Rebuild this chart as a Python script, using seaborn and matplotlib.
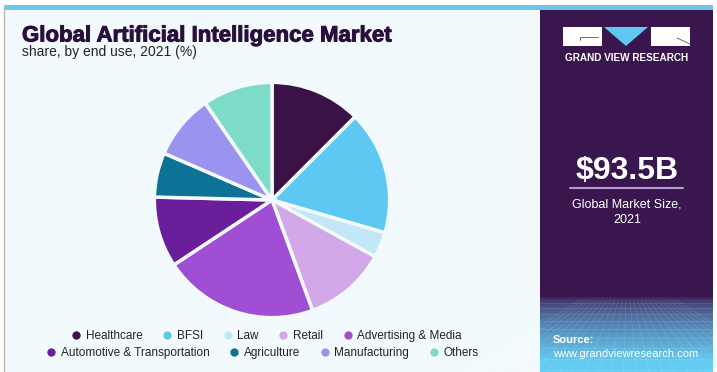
import numpy as np
import matplotlib
matplotlib.use("Agg")
import matplotlib.pyplot as plt
import matplotlib.patheffects as pe
import seaborn as sns
from matplotlib.lines import Line2D
from matplotlib.patches import Rectangle, Polygon

# Data (share by end use, 2021, %)
segments = ["Healthcare", "BFSI", "Law", "Retail", "Advertising & Media",
            "Automotive & Transportation", "Agriculture", "Manufacturing", "Others"]
shares = [12.5, 17.0, 3.5, 11.4, 21.3, 9.7, 6.1, 8.9, 9.6]
colors = ["#3b1248", "#5ec8f2", "#c2e7f6", "#d3a8e8", "#a04fd4",
          "#6a1e9c", "#0e7196", "#9a94f0", "#7ddcc7"]

title = "Global Artificial Intelligence Market"
subtitle = "share, by end use, 2021 (%)"
market_size = "$93.5B"
market_label = "Global Market Size,\n2021"

sns.set_theme(style="white")
plt.rcParams["font.family"] = ["Liberation Sans", "DejaVu Sans"]

W, H = 717, 372
fig = plt.figure(figsize=(W / 100, H / 100), dpi=100)
fig.patch.set_facecolor("white")

# background layer in pixel coords
bg = fig.add_axes([0, 0, 1, 1])
bg.set_xlim(0, W)
bg.set_ylim(H, 0)
bg.axis("off")
bg.add_patch(Rectangle((4, 10), 536, 362, facecolor="#f3fafd", edgecolor="none"))
bg.add_patch(Rectangle((4, 5), 709, 5, facecolor="#6cc6e8", edgecolor="none"))
bg.plot([4, 4], [5, 372], color="#b8b8b8", lw=1)

# right side panel: dark purple fading to light blue at the bottom
c0 = np.array([0x3a, 0x16, 0x4f]) / 255
c1 = np.array([0x64, 0xcc, 0xf2]) / 255
bg.add_patch(Rectangle((540, 10), 173, 290, facecolor=c0, edgecolor="none", zorder=1))
for y in range(294, 372):
    t = min(1.0, max(0.0, (y - 296) / 66)) ** 0.6
    bg.add_patch(Rectangle((540, y), 173, 1.3, facecolor=c0 * (1 - t) + c1 * t,
                           edgecolor="none", zorder=1))
# faint perspective grid
for x0 in np.linspace(470, 790, 26):
    bg.plot([627 + (x0 - 627) * 0.3, x0], [300, 372], color="white", lw=0.4, alpha=0.18,
            zorder=2, clip_on=True)
for yy in [303, 308, 314, 321, 329, 338, 348, 359, 370]:
    bg.plot([540, 713], [yy, yy], color="white", lw=0.4, alpha=0.18, zorder=2)
bg.set_xlim(0, W)
bg.set_ylim(H, 0)

# logo
bg.add_patch(Rectangle((563, 27), 39, 19, facecolor="white", edgecolor="none", zorder=3))
bg.plot([580, 580, 598], [40, 37, 37], color="#555555", lw=0.6, zorder=4)
bg.add_patch(Polygon([[604, 27], [648, 27], [626, 46]], facecolor="#5ec8f2", edgecolor="none", zorder=3))
bg.add_patch(Rectangle((651, 27), 39, 19, facecolor="white", edgecolor="none", zorder=3))
bg.plot([677, 690], [38, 44], color="#555555", lw=0.6, zorder=4)
bg.text(627, 58, "GRAND VIEW RESEARCH", color="white", fontsize=7.2, fontweight="bold",
        ha="center", va="center", zorder=4)

bg.text(627, 171, market_size, color="white", fontsize=23, fontweight="bold",
        ha="center", va="center", zorder=4)
bg.plot([570, 683], [188, 188], color="#b89ad0", lw=1.5, zorder=4)
bg.text(627, 212, market_label, color="white", fontsize=9, ha="center", va="center",
        linespacing=1.4, zorder=4)
bg.text(553, 340, "Source:", color="white", fontsize=8, fontweight="bold", va="center", zorder=4)
bg.text(553, 354, "www.grandviewresearch.com", color="white", fontsize=8, va="center", zorder=4)

# titles
bg.text(22, 36, title, color="#2a0f3d", fontsize=16, fontweight="bold", va="center",
        path_effects=[pe.withStroke(linewidth=0.7, foreground="#2a0f3d")])
bg.text(22, 52, subtitle, color="#222222", fontsize=10, va="center")

# pie
cx, cy, r = 272, 200, 120
ax = fig.add_axes([(cx - r) / W, 1 - (cy + r) / H, 2 * r / W, 2 * r / H])
ax.pie(shares, colors=sns.color_palette(colors), startangle=90, counterclock=False,
       wedgeprops=dict(edgecolor="#f3fafd", linewidth=2.5))
ax.set_xlim(-1.02, 1.02)
ax.set_ylim(-1.02, 1.02)
ax.set_aspect("equal")
ax.axis("off")

# legend in two rows
def handles(idx):
    return [Line2D([], [], marker="o", linestyle="none", markersize=6,
                   markerfacecolor=colors[i], markeredgecolor="none", label=segments[i])
            for i in idx]

kw = dict(frameon=False, fontsize=8.5, handletextpad=0.3, columnspacing=1.6,
          handlelength=1.0, borderaxespad=0)
leg1 = fig.legend(handles=handles(range(5)), ncol=5, loc="center",
                  bbox_to_anchor=(266 / W, 1 - 336 / H), **kw)
leg2 = fig.legend(handles=handles(range(5, 9)), ncol=4, loc="center",
                  bbox_to_anchor=(262 / W, 1 - 353 / H), **kw)
for leg in (leg1, leg2):
    for t in leg.get_texts():
        t.set_color("#222222")

fig.savefig("out.png", dpi=100)
